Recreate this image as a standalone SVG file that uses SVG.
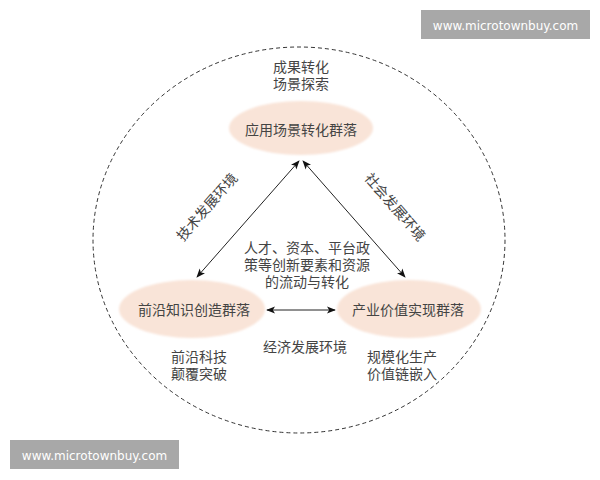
<svg xmlns="http://www.w3.org/2000/svg" width="600" height="480" viewBox="0 0 600 480">
<style>
.t{font-family:"Noto Sans CJK SC","Noto Sans",sans-serif;font-size:14px;fill:#444;text-anchor:middle}
.node{fill:#f9e4d8}
.conn{stroke:#222;stroke-width:1;fill:none;marker-start:url(#ah);marker-end:url(#ah)}
.wm{fill:#a8a8a8}
.wmt{font-family:"DejaVu Sans",sans-serif;font-size:12px;fill:#fff;text-anchor:middle}
</style>
<defs>
<marker id="ah" viewBox="0 0 10 10" refX="9" refY="5" markerWidth="9" markerHeight="9" markerUnits="userSpaceOnUse" orient="auto-start-reverse">
<path d="M0,1 L10,5 L0,9 L2.5,5 Z" fill="#111"/>
</marker>
<filter id="soft" x="-10%" y="-20%" width="120%" height="140%"><feGaussianBlur stdDeviation="1.2"/></filter>
</defs>
<rect width="600" height="480" fill="#fff"/>
<ellipse cx="299" cy="240" rx="206" ry="193" fill="none" stroke="#333" stroke-width="1" stroke-dasharray="4 3"/>
<g id="top-labels">
<text class="t" x="301" y="72">成果转化<tspan x="301" dy="17">场景探索</tspan></text>
</g>
<g id="node-top">
<ellipse class="node" cx="301" cy="128" rx="72" ry="27" filter="url(#soft)"/>
<text class="t" x="301" y="135">应用场景转化群落</text>
</g>
<g id="node-left">
<ellipse class="node" cx="192" cy="309" rx="73" ry="29" filter="url(#soft)"/>
<text class="t" x="194" y="315">前沿知识创造群落</text>
</g>
<g id="node-right">
<ellipse class="node" cx="409" cy="309" rx="72" ry="29" filter="url(#soft)"/>
<text class="t" x="408" y="315">产业价值实现群落</text>
</g>
<g id="connectors">
<line class="conn" x1="197" y1="277" x2="299" y2="161"/>
<line class="conn" x1="405" y1="277" x2="303" y2="161"/>
<line class="conn" x1="267" y1="310" x2="335" y2="310"/>
</g>
<g id="edge-labels">
<text class="t" transform="translate(207,207) rotate(-49)" x="0" y="5">技术发展环境</text>
<text class="t" transform="translate(395,207) rotate(49)" x="0" y="5">社会发展环境</text>
<text class="t" x="305" y="352">经济发展环境</text>
</g>
<g id="center-text">
<text class="t" x="307" y="253">人才、资本、平台政<tspan x="307" dy="17">策等创新要素和资源</tspan><tspan x="307" dy="17">的流动与转化</tspan></text>
</g>
<g id="bottom-labels">
<text class="t" x="199" y="362">前沿科技<tspan x="199" dy="17">颠覆突破</tspan></text>
<text class="t" x="402" y="362">规模化生产<tspan x="402" dy="17">价值链嵌入</tspan></text>
</g>
<g id="watermarks">
<rect class="wm" x="421" y="10" width="169" height="29"/>
<text class="wmt" x="505.5" y="29.5">www.microtownbuy.com</text>
<rect class="wm" x="10" y="440" width="169" height="29"/>
<text class="wmt" x="94.5" y="459.5">www.microtownbuy.com</text>
</g>
</svg>
